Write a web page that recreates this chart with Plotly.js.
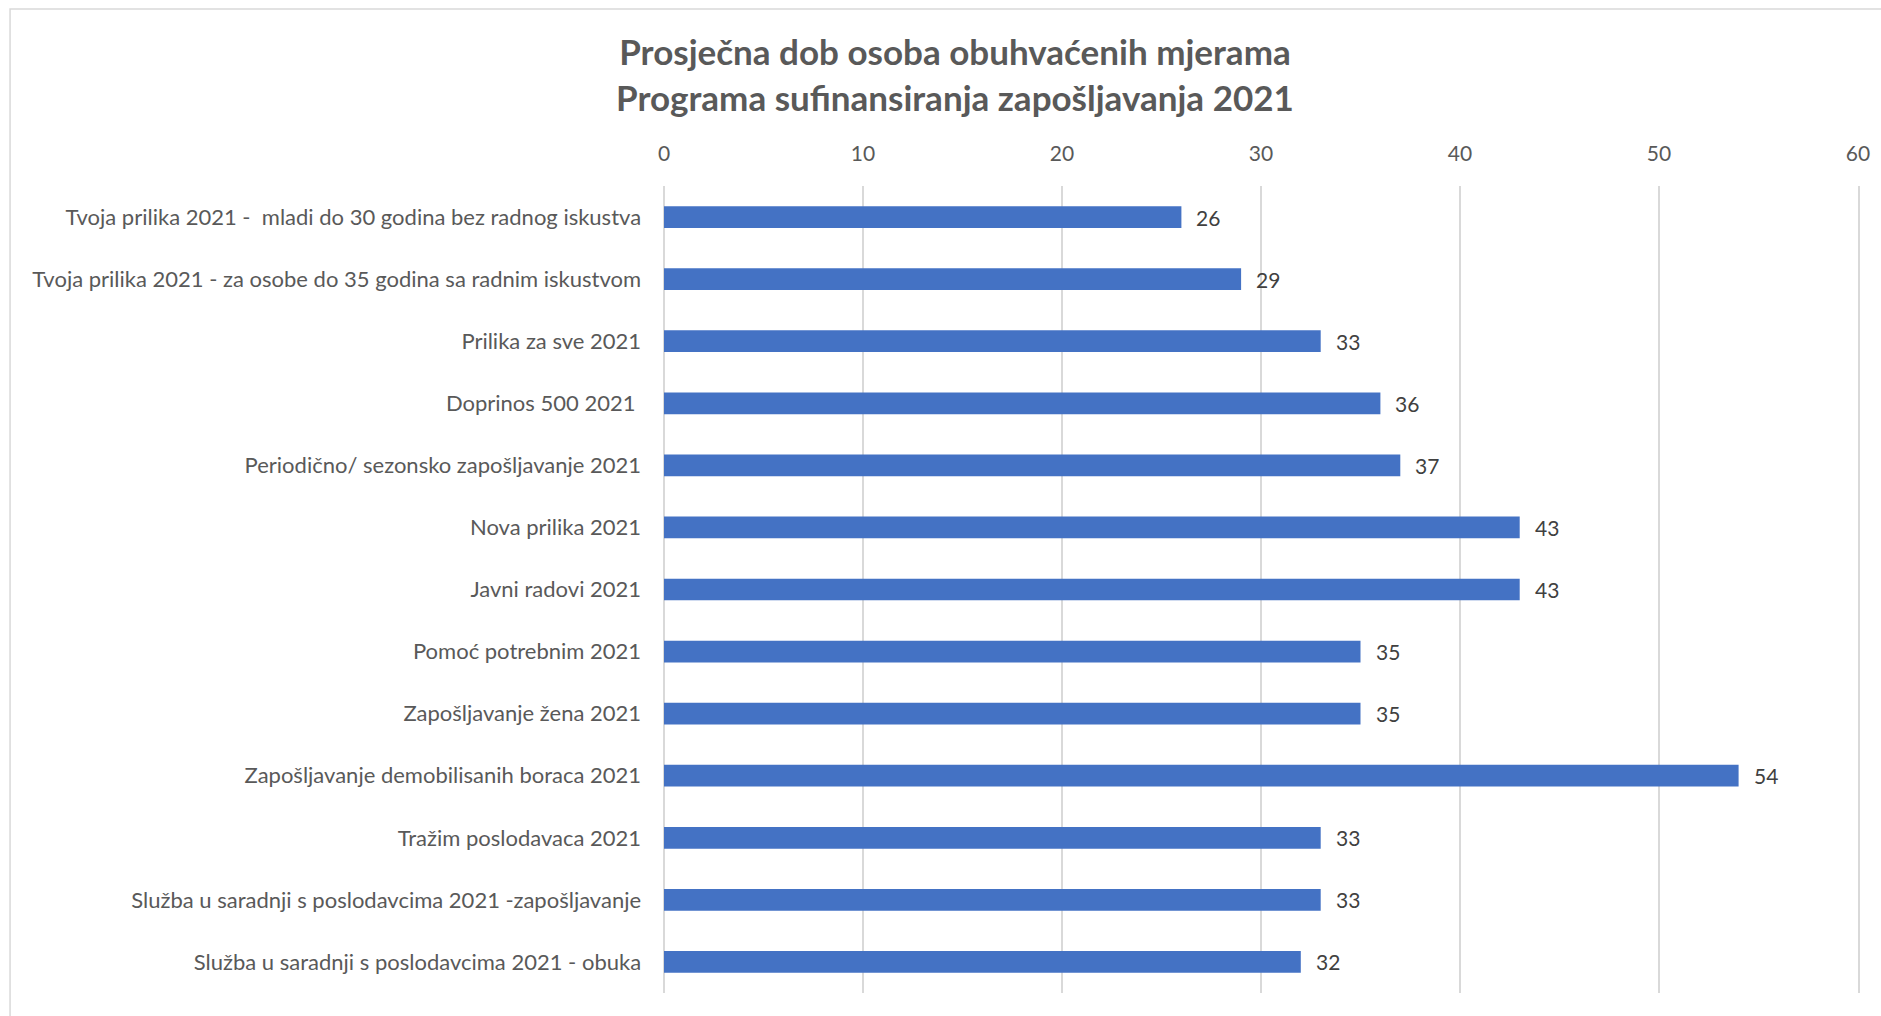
<!DOCTYPE html>
<html>
<head>
<meta charset="utf-8">
<script src="https://cdn.plot.ly/plotly-3.0.1.min.js"></script>
<style>
  body { margin: 0; background: #ffffff; }
  #plot { width: 1881px; height: 1016px; }
</style>
</head>
<body>
<div id="plot"></div>
<script>
// categories, top to bottom as in the chart
let programs = [
    "Tvoja prilika 2021 -  mladi do 30 godina bez radnog iskustva",
    "Tvoja prilika 2021 - za osobe do 35 godina sa radnim iskustvom",
    "Prilika za sve 2021",
    "Doprinos 500 2021\u00a0",
    "Periodično/ sezonsko zapošljavanje 2021",
    "Nova prilika 2021",
    "Javni radovi 2021",
    "Pomoć potrebnim 2021",
    "Zapošljavanje žena 2021",
    "Zapošljavanje demobilisanih boraca 2021",
    "Tražim poslodavaca 2021",
    "Služba u saradnji s poslodavcima 2021 -zapošljavanje",
    "Služba u saradnji s poslodavcima 2021 - obuka"
];

// average age per program
let avgAge = [26, 29, 33, 36, 37, 43, 43, 35, 35, 54, 33, 33, 32];

// x axis ticks
let tickVals = [0, 10, 20, 30, 40, 50, 60];

let fontName = "Lato, 'Open Sans', sans-serif";

let ageTrace = {
    y: programs,
    x: avgAge,
    type: "bar",
    orientation: "h",
    width: 0.35,
    marker: { color: "#4472C4" },
    hoverinfo: "x+y"
};

// value labels next to the bars
let valueLabels = avgAge.map((v, i) => ({
    x: v,
    y: programs[i],
    xref: "x",
    yref: "y",
    text: String(v),
    showarrow: false,
    xanchor: "left",
    xshift: 13,
    font: { family: fontName, size: 21, color: "#404040" }
}));

let layout = {
    width: 1881,
    height: 1016,
    paper_bgcolor: "#ffffff",
    plot_bgcolor: "#ffffff",
    showlegend: false,
    margin: { l: 664, r: 23, t: 186, b: 23 },
    title: {
        text: "Prosječna dob osoba obuhvaćenih mjerama<br>Programa sufinansiranja zapošljavanja 2021",
        font: { family: fontName, size: 35, color: "#595959", weight: "bold" },
        xref: "container",
        yref: "container",
        x: 0.5077,
        xanchor: "center",
        y: 0.936,
        yanchor: "top"
    },
    xaxis: {
        side: "top",
        range: [0, 60],
        tickvals: tickVals,
        ticktext: tickVals.map(String),
        showgrid: true,
        gridcolor: "#d9d9d9",
        gridwidth: 1.5,
        zeroline: true,
        zerolinecolor: "#d9d9d9",
        zerolinewidth: 1.5,
        showline: false,
        ticks: "",
        ticklabelstandoff: 20,
        tickfont: { family: fontName, size: 21, color: "#595959" },
        fixedrange: true
    },
    yaxis: {
        autorange: "reversed",
        type: "category",
        showgrid: false,
        zeroline: false,
        // vertical lines at 0 and 60, like the outer gridlines
        showline: true,
        mirror: true,
        linecolor: "#d9d9d9",
        linewidth: 1.5,
        ticks: "",
        ticklabelstandoff: 17,
        tickfont: { family: fontName, size: 22, color: "#595959" },
        fixedrange: true
    },
    annotations: valueLabels,
    shapes: [
        {
            // light frame round the chart area
            type: "rect",
            xref: "paper",
            yref: "paper",
            x0: -0.5477,
            x1: 1.2,
            y0: -0.2,
            y1: 1.2193,
            line: { color: "#d9d9d9", width: 1.5 },
            fillcolor: "rgba(0,0,0,0)",
            layer: "below"
        }
    ]
};

Plotly.newPlot("plot", [ageTrace], layout, { displayModeBar: false, staticPlot: true });
</script>
</body>
</html>
